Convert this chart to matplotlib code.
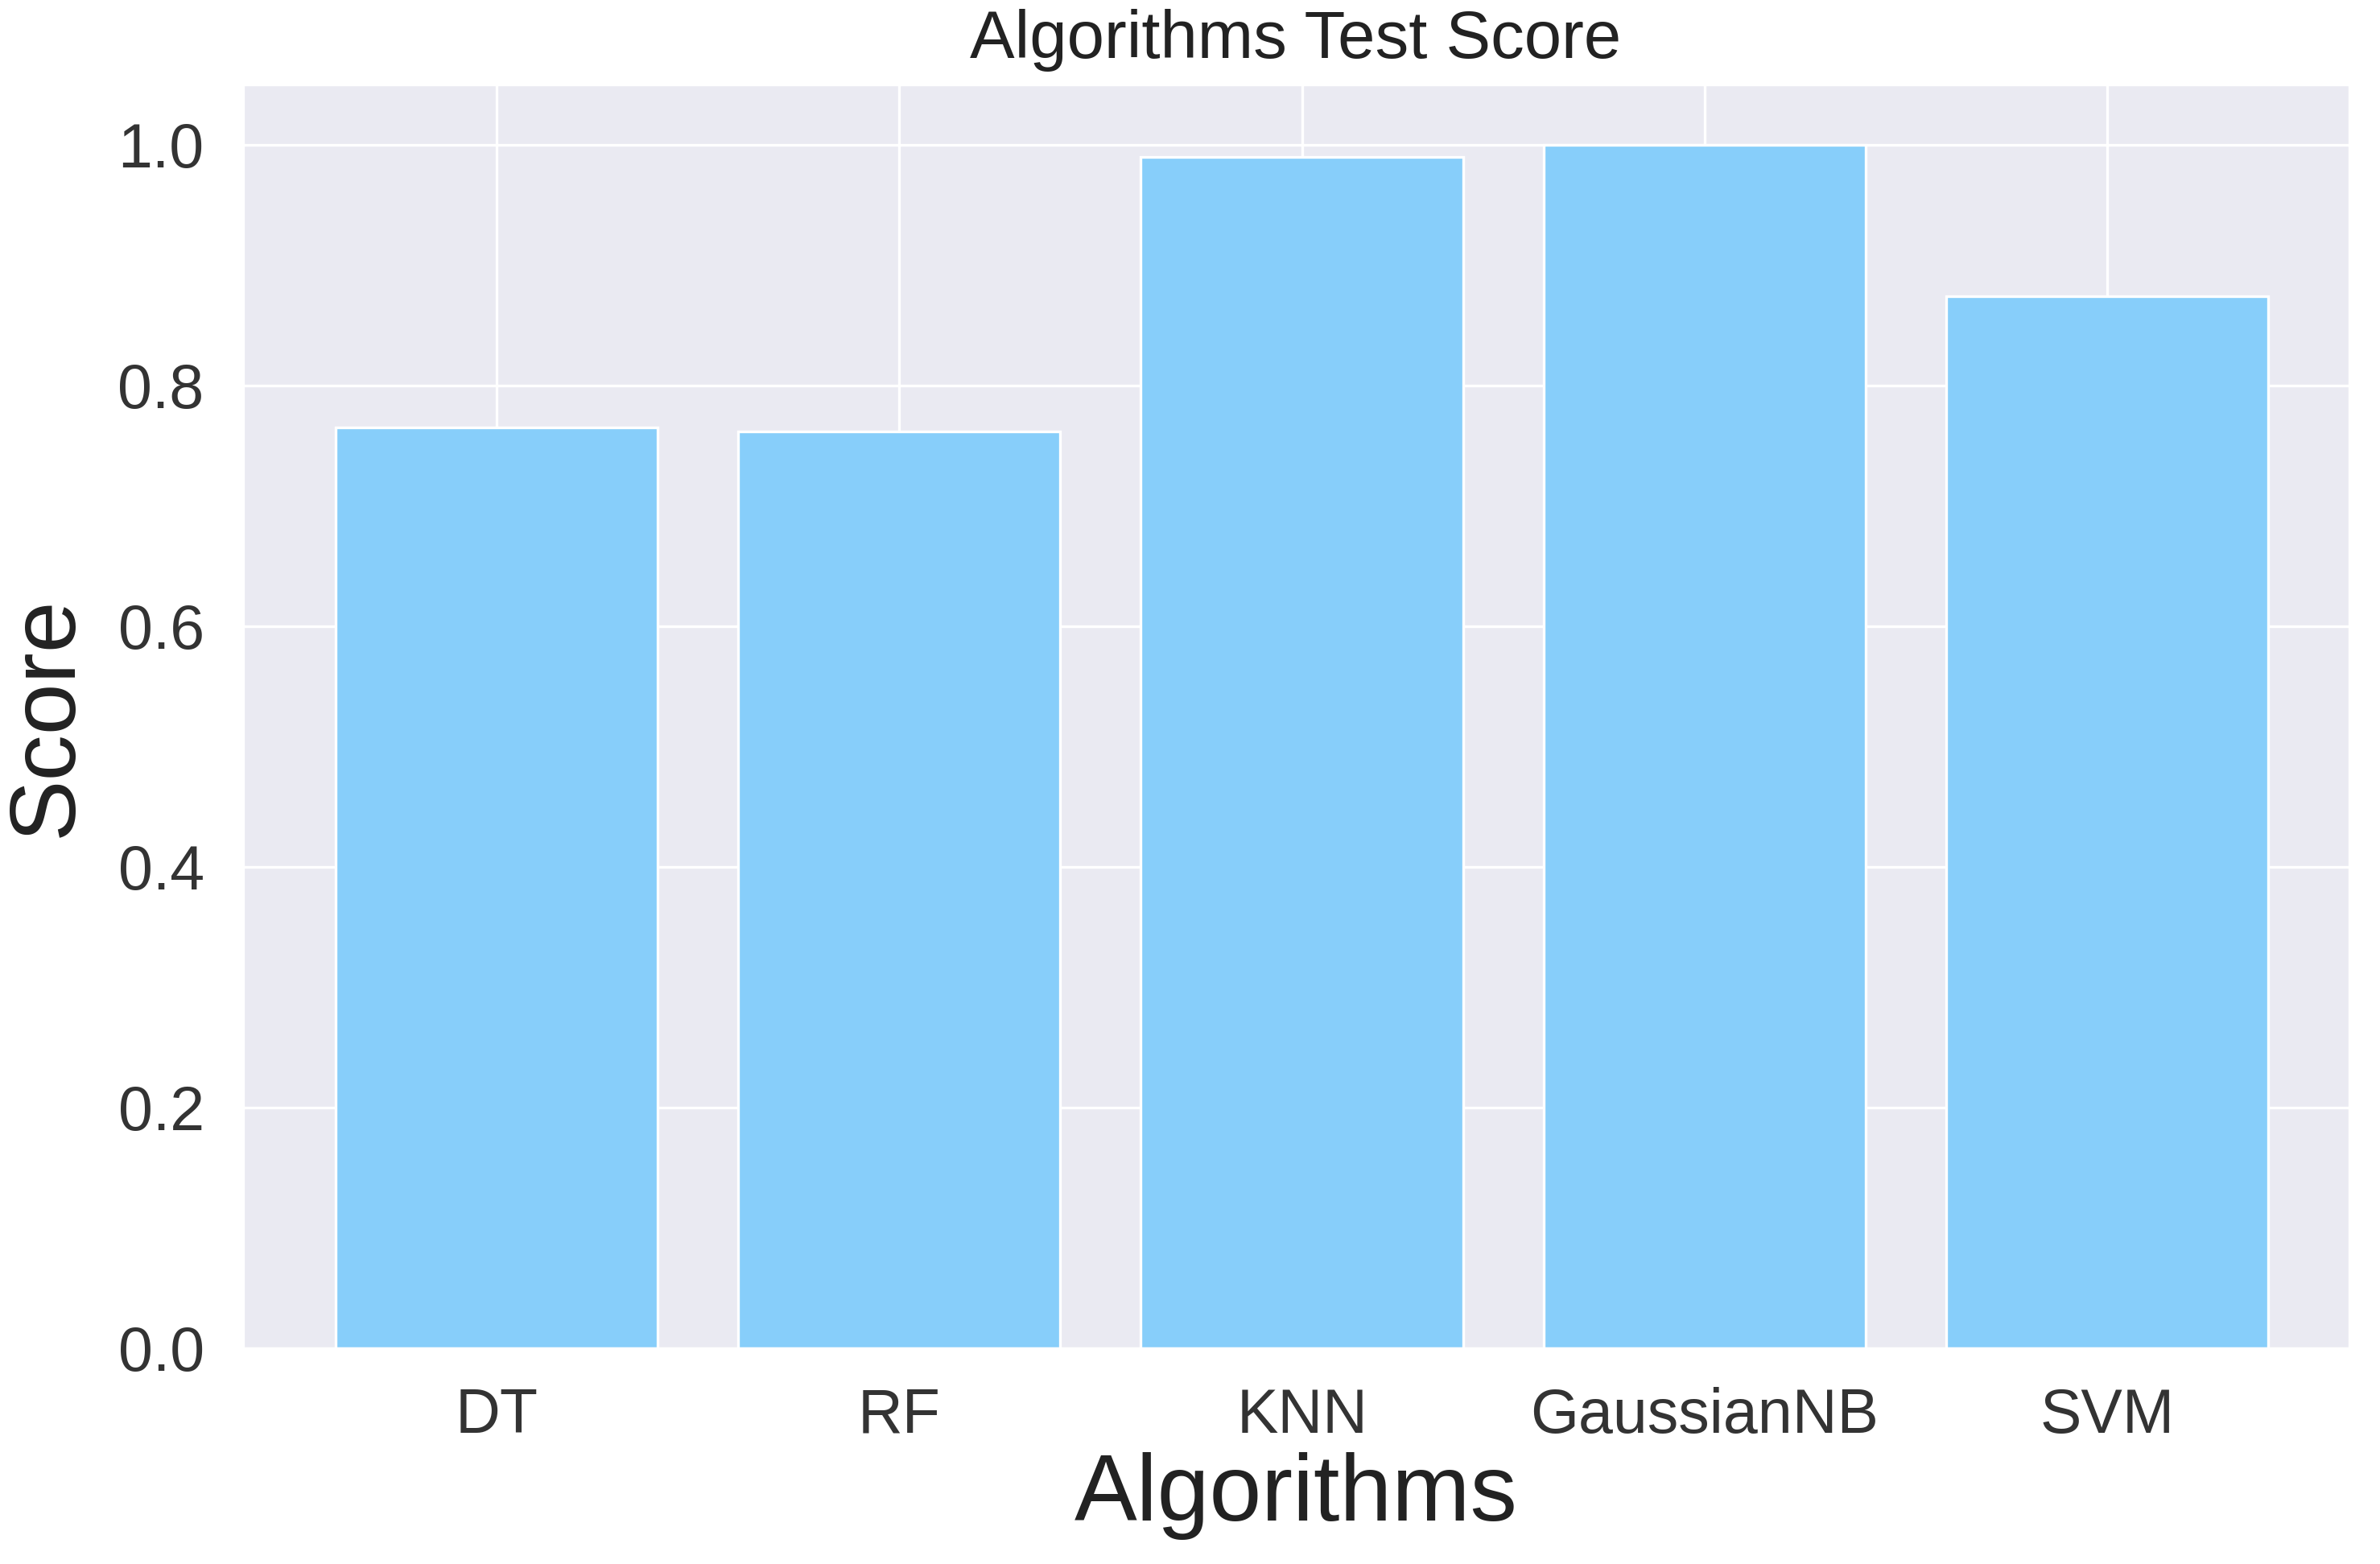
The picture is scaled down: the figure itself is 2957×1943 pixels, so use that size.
import matplotlib
matplotlib.use("Agg")
import matplotlib.pyplot as plt
import seaborn as sns

algorithms = ["DT", "RF", "KNN", "GaussianNB", "SVM"]
scores = [0.765, 0.762, 0.990, 1.000, 0.874]
yticks = [0.0, 0.2, 0.4, 0.6, 0.8, 1.0]

sns.set_style("darkgrid")
plt.rcParams['font.family'] = ['Liberation Sans', 'DejaVu Sans']

fig = plt.figure(figsize=(2957 / 300, 1943 / 300), dpi=300)
ax = fig.add_axes([0.102, 0.138, 0.885, 0.808])

ax.bar(algorithms, scores, width=0.8, color="lightskyblue", edgecolor="white", linewidth=0.8)
ax.set_yticks(yticks)
ax.set_ylim(0, 1.05)
ax.set_xlim(-0.63, 4.6)
ax.tick_params(axis="both", labelsize=18.5, colors="#333333", pad=8)
for lbl in ax.get_xticklabels() + ax.get_yticklabels():
    lbl.set_color("#333333")

ax.set_title("Algorithms Test Score", fontsize=20, color="#222222", pad=8)
ax.set_xlabel("Algorithms", fontsize=28, color="#222222", labelpad=2)
ax.set_ylabel("Score", fontsize=27.5, color="#222222", labelpad=8)

fig.savefig("out.png", dpi=300)
